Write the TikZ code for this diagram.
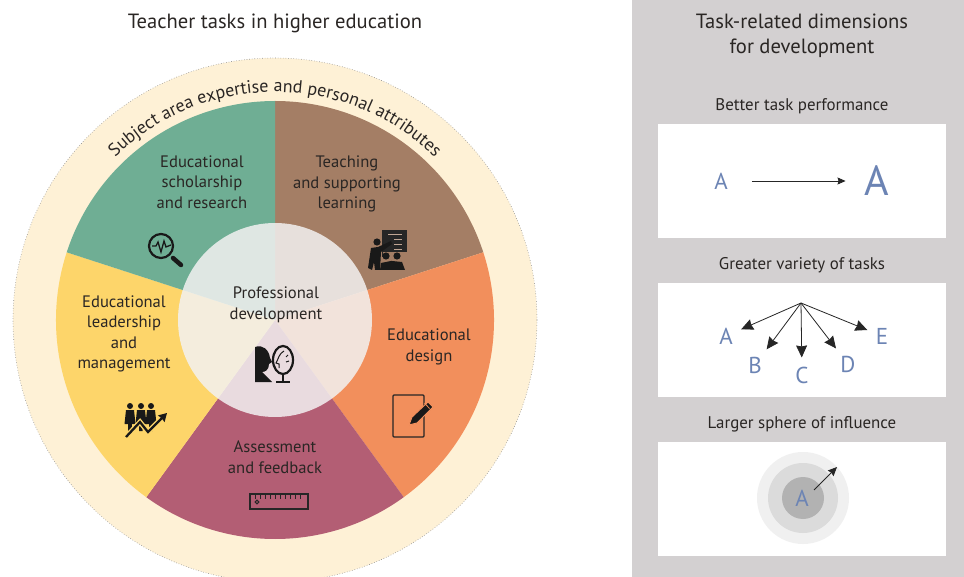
\documentclass[tikz,border=0pt]{standalone}
\usepackage{fontspec}
\setmainfont{PT Sans}
\usetikzlibrary{arrows.meta,positioning,decorations.text}
\definecolor{ringcol}{HTML}{FEF1D6}
\definecolor{tealcol}{HTML}{6FAE94}
\definecolor{browncol}{HTML}{A47E65}
\definecolor{orangecol}{HTML}{F28F5C}
\definecolor{redcol}{HTML}{B35E74}
\definecolor{yellowcol}{HTML}{FDD56A}
\definecolor{panelcol}{HTML}{D3D0D1}
\definecolor{lettercol}{HTML}{6C84B4}
\definecolor{inkcol}{HTML}{2A2624}
\definecolor{hubcol}{HTML}{F3F2F2}
\begin{document}
\begin{tikzpicture}[x=1pt, y=-1pt]

	\tikzset{
	title/.style={font=\fontsize{20.6}{25}\selectfont, text=inkcol, align=center, inner sep=0pt},
	sublabel/.style={font=\fontsize{16.9}{20}\selectfont, text=inkcol, align=center, inner sep=0pt},
	tasklabel/.style={font=\fontsize{16.6}{20.5}\selectfont, text=inkcol, align=center, inner sep=0pt},
	letter/.style={font=\fontsize{23}{23}\selectfont, text=lettercol, inner sep=0pt},
	whitebox/.style={fill=white, minimum width=288pt, minimum height=113.5pt, inner sep=0pt},
	fanarrow/.style={-{Stealth[length=12pt,width=11pt,inset=1pt]}, line width=0.8pt, black!85, shorten >=9pt},
	icon/.style={fill=black!90, draw=none}
	}

	\useasboundingbox (0,0) rectangle (964,577);

	% Wheel
	\coordinate (c) at (275,320);
	\fill[ringcol] (c) circle[radius=262pt];
	\draw[black!45, line width=0.6pt, dotted] (c) circle[radius=262pt];
	\foreach \a/\col in {90/browncol, 18/orangecol, -54/redcol, -126/yellowcol, 162/tealcol}
		\fill[\col] (c) -- ++(\a:219pt) arc[start angle=\a, delta angle=-72, radius=219pt] -- cycle;
	\fill[hubcol, opacity=0.85] (c) circle[radius=97pt];

	% Ring text
	\path[decorate, decoration={text along path, text align=center,
		text={|\fontsize{18}{20}\selectfont\color{inkcol}|Subject area expertise and personal attributes}}]
		(c) ++(136:228pt) arc[start angle=136, delta angle=-92, radius=228pt];

	% Nodes
	\node[title] (wheel_title) at (275,23) {Teacher tasks in higher education};
	\node[tasklabel] (scholarship) at (202,182) {Educational\\scholarship\\and research};
	\node[tasklabel] (teaching) at (347,184) {Teaching\\and supporting\\learning};
	\node[tasklabel] (leadership) at (124,334) {Educational\\leadership\\and\\management};
	\node[tasklabel] (professional) at (276,305) {Professional\\development};
	\node[tasklabel] (design) at (429,347) {Educational\\design};
	\node[tasklabel] (assessment) at (275,457) {Assessment\\and feedback};

	% Panel
	\fill[panelcol] (632,0) rectangle (964,577);
	\node[title] (panel_title) at (802,36) {Task-related dimensions\\for development};
	\node[whitebox] (box1) at (802,181) {};
	\node[whitebox, below=45pt of box1] (box2) {};
	\node[whitebox, below=45pt of box2] (box3) {};
	\node[sublabel, above=10pt of box1] (perf) {Better task performance};
	\node[sublabel, above=10pt of box2] (variety) {Greater variety of tasks};
	\node[sublabel, above=10pt of box3] (sphere) {Larger sphere of influence};

	% Better task performance
	\node[letter] (small_a) at (721,181) {A};
	\node[letter, font=\fontsize{42}{42}\selectfont] (big_a) at (877,181) {A};
	\draw[-{Stealth[length=8pt,width=7pt,inset=1pt]}, line width=0.7pt, black!85, shorten <=24pt, shorten >=19pt] (small_a) -- (big_a);

	% Greater variety of tasks
	\coordinate (fan) at (801,303);
	\node[letter] (task_a) at (726,336) {A};
	\node[letter] (task_b) at (755,365) {B};
	\node[letter] (task_c) at (802,375) {C};
	\node[letter] (task_d) at (848,364) {D};
	\node[letter] (task_e) at (882,336) {E};
	\foreach \t in {task_a,task_b,task_c,task_d,task_e}
		\draw[fanarrow] (fan) -- (\t);

	% Larger sphere of influence
	\fill[black!6] (803,498) circle[radius=46pt];
	\fill[black!14] (803,498) circle[radius=35pt];
	\fill[black!30] (803,498) circle[radius=21pt];
	\node[letter] (sphere_a) at (802,498) {A};
	\coordinate (reach_from) at (814,490);
	\coordinate (reach_to) at (837,467);
	\draw[-{Stealth[length=9pt,width=8pt,inset=1pt]}, line width=0.8pt, black!85] (reach_from) -- (reach_to);

	% Icons: magnifier
	\draw[black!90, line width=2.2pt] (161,246) circle[radius=12pt];
	\draw[black!90, line width=4.5pt, line cap=round] (173,258) -- (181,265);
	\draw[black!90, line width=1.3pt] (152,246) -- (156,246) -- (158,242) -- (161,252) -- (164,241) -- (166,247) -- (171,245);

	% Icons: teacher
	\fill[black!85] (382,230) rectangle (407,257);
	\draw[browncol!70!white, line width=1pt] (388,235) -- (402,235) (394,240) -- (402,240) (394,245) -- (402,245) (394,250) -- (402,250);
	\fill[icon] (377,242) circle[radius=3.6pt];
	\fill[icon] (371,248) -- (378,247) -- (391,241) -- (392,244) -- (381,252) -- (380,270) -- (375,270) -- (374,262) -- (372,270) -- (368,268) -- cycle;
	\fill[browncol] (383,252) rectangle (407,270);
	\fill[icon] (386,256) circle[radius=3.6pt] (397,256) circle[radius=3.6pt];
	\fill[icon] (380,270) -- (381,263) -- (391,261) -- (392,261) -- (402,262) -- (405,270) -- cycle;

	% Icons: silhouette and mirror
	\fill[icon] (255,347) .. controls (263,344) and (269,350) .. (270,358) -- (272,362) -- (269,364) .. controls (269,370) and (265,372) .. (262,372) -- (272,382) -- (255,382) -- cycle;
	\draw[black!90, line width=2.2pt] (283,360) ellipse[x radius=10pt, y radius=14pt];
	\draw[black!90, line width=1.8pt] (283,374) -- (283,382) (276,382) -- (290,382);
	\draw[black!90, line width=1pt] (284,351) .. controls (278,355) and (279,358) .. (276,363) -- (279,364) -- (279,368);
	\draw[black!90, line width=1pt] (286,357) -- (288,355) (289,361) -- (286,362);

	% Icons: team and rising arrow
	\foreach \x in {130,141,151}{
		\fill[icon] (\x,406) circle[radius=3pt];
		\fill[icon] (\x-4,410) -- (\x+4,410) -- (\x+5.5,424) -- (\x+2,424) -- (\x+1.5,431) -- (\x-2,431) -- (\x-2,424) -- (\x-5.5,424) -- cycle;
	}
	\draw[yellowcol, line width=5pt] (126,437) -- (140,422) -- (148,432) -- (163,417);
	\draw[-{Stealth[length=8pt,width=9pt,inset=0.5pt]}, black!90, line width=2.3pt] (126,437) -- (140,422) -- (148,432) -- (167,413);

	% Icons: notepad and pen
	\draw[black!85, line width=1.4pt, rounded corners=1pt] (393,395) rectangle (424,437);
	\fill[icon, draw=orangecol, line width=1pt] (409,425) -- (412,417) -- (428,402) -- (433,407) -- (417,423) -- cycle;
	\draw[orangecol, line width=0.8pt] (424.5,403) -- (429.5,408.5);

	% Icons: ruler
	\draw[black!85, line width=1.4pt] (250,494) rectangle (308,509);
	\draw[black!85, line width=1pt] (257,502) circle[radius=1.8pt];
	\foreach \x in {0,...,9}
		\draw[black!85, line width=0.8pt] (255+5*\x,494) -- (255+5*\x,499);

\end{tikzpicture}
\end{document}
